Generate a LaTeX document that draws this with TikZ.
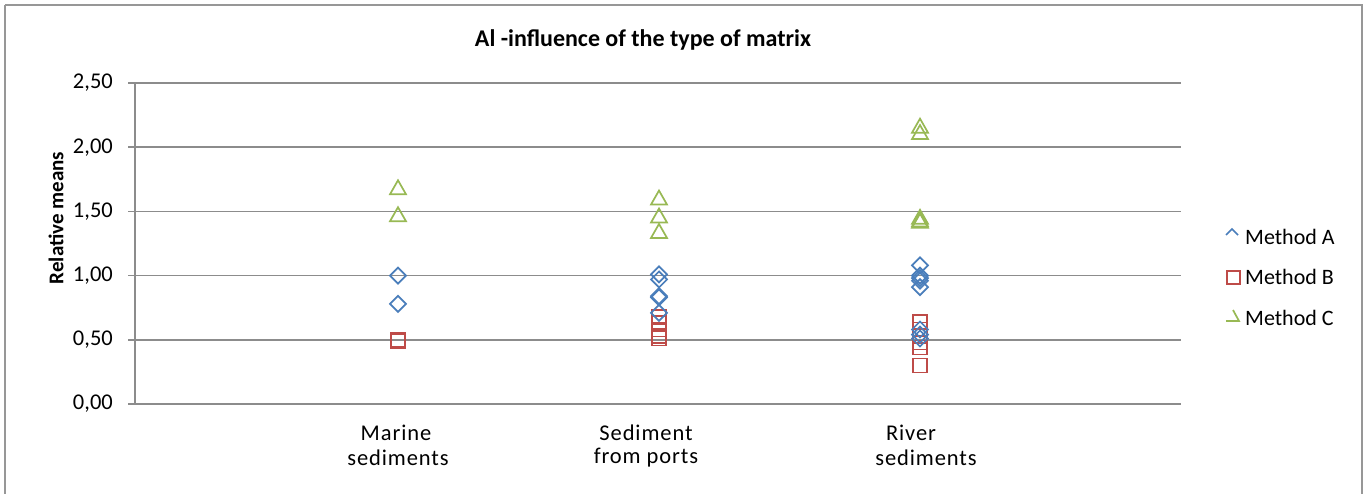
\documentclass[tikz,border=0pt]{standalone}
\usepackage{fontspec}
\setmainfont{Carlito}
\definecolor{mA}{HTML}{4A7EBB}
\definecolor{mB}{HTML}{BE4B48}
\definecolor{mC}{HTML}{98B954}
\definecolor{gridc}{HTML}{8C8C8C}
\begin{document}
\begin{tikzpicture}[x=1pt,y=-1pt,
  gridline/.style={draw=gridc,line width=1.6pt},
  frameline/.style={draw=gridc!90,line width=2pt},
  ticklab/.style={anchor=east,font=\fontsize{22.5}{26}\selectfont,inner sep=0pt},
  catlab/.style={font=\fontsize{22.5}{26}\selectfont\addfontfeature{LetterSpace=4},inner sep=0pt},
  leglab/.style={anchor=west,font=\fontsize{22}{25}\selectfont,inner sep=0pt},
  mkA/.style={draw=mA,line width=1.7pt},
  mkB/.style={draw=mB,line width=1.7pt},
  mkC/.style={draw=mC,line width=1.7pt}]
\useasboundingbox (0,0) rectangle (1368,493);
\fill[white] (0,0) rectangle (1368,493);
\draw[frameline] (5,5) -- (1362,5) -- (1362,520) (5,5) -- (5,520);
% grid
\foreach \v in {0.5,1,1.5,2,2.5}{
  \draw[gridline] (128,{404-\v*128.4}) -- (1181,{404-\v*128.4});
}
\draw[gridline] (128,404) -- (1181,404);
\draw[gridline] (135,83) -- (135,404);
% tick labels
\foreach \v/\t in {0/{0,00},0.5/{0,50},1/{1,00},1.5/{1,50},2/{2,00},2.5/{2,50}}{
  \node[ticklab] (t\v) at (113,{404-\v*128.4}) {\t};
}
% title and axis label
\node[font=\bfseries\fontsize{24}{28}\selectfont,inner sep=0pt] (title) at (643,40) {Al -influence of the type of matrix};
\node[font=\bfseries\fontsize{21}{24}\selectfont,rotate=90,inner sep=0pt] (ylab) at (56,218) {Relative means};
% categories
\node[catlab] (c1a) at (396,433) {Marine};
\node[catlab] (c1b) at (398,458) {sediments};
\node[catlab] (c2a) at (646,433) {Sediment};
\node[catlab] (c2b) at (646,458) {from ports};
\node[catlab] (c3a) at (911,433) {River};
\node[catlab] (c3b) at (926,458) {sediments};
% data: Method C triangles
\foreach \x/\v in {398/1.68,398/1.47,659/1.60,659/1.46,659/1.34,920/2.16,920/2.11,920/1.45,920/1.43,920/1.42}{
  \draw[mkC,line join=miter] ({\x-8},{404-\v*128.4+6}) -- (\x,{404-\v*128.4-8}) -- ({\x+8},{404-\v*128.4+6}) -- cycle;
}
% Method B squares
\foreach \x/\v in {398/0.50,398/0.49,659/0.68,659/0.63,659/0.58,659/0.53,659/0.51,920/0.64,920/0.58,920/0.53,920/0.48,920/0.44,920/0.30}{
  \draw[mkB] ({\x-7},{404-\v*128.4-7}) rectangle ({\x+7},{404-\v*128.4+7});
}
% Method A diamonds
\foreach \x/\v in {398/1.00,398/0.78,659/1.01,659/0.97,659/0.84,659/0.83,659/0.71,920/1.08,920/1.00,920/0.98,920/0.96,920/0.91,920/0.58,920/0.54,920/0.51}{
  \draw[mkA] (\x,{404-\v*128.4-8}) -- ({\x+8},{404-\v*128.4}) -- (\x,{404-\v*128.4+8}) -- ({\x-8},{404-\v*128.4}) -- cycle;
}
% legend
\draw[mkA] (1226,235) -- (1232,229) -- (1238,235);
\draw[mkB] (1227,271) rectangle (1240,284);
\draw[mkC] (1233,310) -- (1239,321) -- (1226,321);
\node[leglab] (lA) at (1245,237) {Method A};
\node[leglab] (lB) at (1245,277) {Method B};
\node[leglab] (lC) at (1245,318) {Method C};
\end{tikzpicture}
\end{document}
